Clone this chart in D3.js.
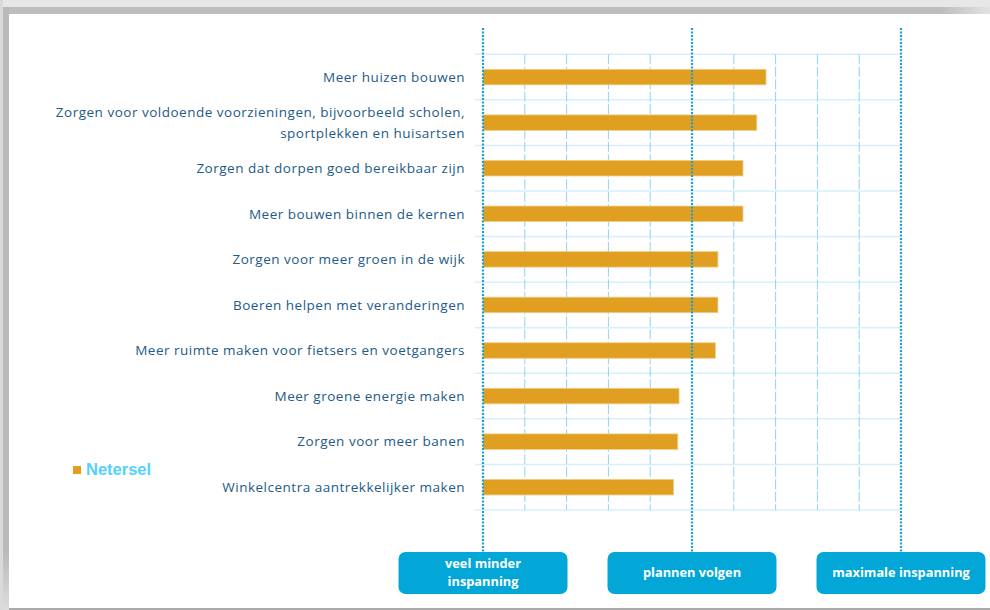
<!DOCTYPE html>
<html>
<head>
<meta charset="utf-8">
<script src="https://cdn.jsdelivr.net/npm/d3@7"></script>
<style>
  html, body { margin: 0; padding: 0; background: #fff; }
  svg { display: block; }
</style>
</head>
<body>
<svg id="chart" width="990" height="610"></svg>
<script>
// ---- data ----
const categories = [
  ["Meer huizen bouwen"],
  ["Zorgen voor voldoende voorzieningen, bijvoorbeeld scholen,", "sportplekken en huisartsen"],
  ["Zorgen dat dorpen goed bereikbaar zijn"],
  ["Meer bouwen binnen de kernen"],
  ["Zorgen voor meer groen in de wijk"],
  ["Boeren helpen met veranderingen"],
  ["Meer ruimte maken voor fietsers en voetgangers"],
  ["Meer groene energie maken"],
  ["Zorgen voor meer banen"],
  ["Winkelcentra aantrekkelijker maken"]
];
const values = [67.7, 65.5, 62.2, 62.2, 56.2, 56.2, 55.6, 46.9, 46.6, 45.6];
const seriesName = "Netersel";
const minorTicks = [10, 20, 30, 40, 60, 70, 80, 90];
const majorTicks = [0, 50, 100];
const majorLabels = [["veel minder", "inspanning"], ["plannen volgen"], ["maximale inspanning"]];

// ---- layout ----
const svg = d3.select("#chart");
const W = 990, H = 610;

const defs = svg.append("defs");
const gTop = defs.append("linearGradient").attr("id", "topfade").attr("x1", 0).attr("x2", 1).attr("y1", 0).attr("y2", 0);
gTop.append("stop").attr("offset", "0%").attr("stop-color", "#bdbdbd");
gTop.append("stop").attr("offset", "95%").attr("stop-color", "#bdbdbd");
gTop.append("stop").attr("offset", "100%").attr("stop-color", "#e2e2e2");
const gLeft = defs.append("linearGradient").attr("id", "leftfade").attr("x1", 0).attr("x2", 0).attr("y1", 0).attr("y2", 1);
gLeft.append("stop").attr("offset", "0%").attr("stop-color", "#b9b9b9");
gLeft.append("stop").attr("offset", "90%").attr("stop-color", "#b9b9b9");
gLeft.append("stop").attr("offset", "100%").attr("stop-color", "#dcdcdc");

// frame
svg.append("rect").attr("x", 0).attr("y", 0).attr("width", W).attr("height", H).attr("fill", "#ffffff");
svg.append("rect").attr("x", 0).attr("y", 0).attr("width", W).attr("height", 7).attr("fill", "#e7e7e7");
svg.append("rect").attr("x", 0).attr("y", 7).attr("width", W).attr("height", 7).attr("fill", "url(#topfade)");
svg.append("rect").attr("x", 0).attr("y", 0).attr("width", 3).attr("height", H).attr("fill", "#dadada");
svg.append("rect").attr("x", 3).attr("y", 7).attr("width", 6).attr("height", H - 7).attr("fill", "url(#leftfade)");
svg.append("rect").attr("x", 9).attr("y", 608).attr("width", W - 9).attr("height", 2).attr("fill", "#aaaaaa");

const x = d3.scaleLinear().domain([0, 100]).range([483, 901]);
const y = d3.scaleBand().domain(d3.range(categories.length)).range([54.3, 510]).padding(0);
const barH = y.bandwidth() * 0.34;

// horizontal gridlines
const hLines = d3.range(categories.length + 1).map(i => 54.3 + i * y.step());
svg.append("g").selectAll("line").data(hLines).join("line")
  .attr("x1", 475).attr("x2", 901)
  .attr("y1", d => d).attr("y2", d => d)
  .attr("stroke", "#d6f0fb").attr("stroke-width", 1.5);

// minor vertical dashed lines
svg.append("g").selectAll("line").data(minorTicks).join("line")
  .attr("x1", d => x(d)).attr("x2", d => x(d))
  .attr("y1", 54.3).attr("y2", 510)
  .attr("stroke", "#8fd3f2").attr("stroke-width", 1)
  .attr("stroke-dasharray", "10,2.5");

// bars
svg.append("g").selectAll("rect").data(values).join("rect")
  .attr("x", x(0))
  .attr("y", (d, i) => y(i) + (y.bandwidth() - barH) / 2)
  .attr("width", d => x(d) - x(0))
  .attr("height", barH)
  .attr("fill", "#e09f21")
  .attr("stroke", "#f2cd86").attr("stroke-width", 0.8);

// major dotted lines
svg.append("g").selectAll("line").data(majorTicks).join("line")
  .attr("x1", d => x(d)).attr("x2", d => x(d))
  .attr("y1", 28).attr("y2", 552)
  .attr("stroke", "#1aa1d4").attr("stroke-width", 2.2)
  .attr("stroke-dasharray", "2,1.5");

// category labels
const lab = svg.append("g")
  .attr("font-family", "'Open Sans', sans-serif")
  .attr("font-size", 13.5)
  .attr("letter-spacing", 0.5)
  .attr("fill", "#245a86")
  .attr("text-anchor", "end");
categories.forEach((lines, i) => {
  const cy = y(i) + y.bandwidth() / 2;
  const lh = 20.5;
  const t = lab.append("text");
  lines.forEach((ln, j) => {
    t.append("tspan").attr("x", 465)
      .attr("y", cy - (lines.length - 1) * lh / 2 + j * lh)
      .attr("dy", "0.35em").text(ln);
  });
});

// buttons
const btnW = 169, btnH = 42, btnY = 552;
const bg = svg.append("g");
majorTicks.forEach((d, i) => {
  const cx = x(d);
  bg.append("rect").attr("x", cx - btnW / 2).attr("y", btnY).attr("width", btnW).attr("height", btnH)
    .attr("rx", 7).attr("ry", 7).attr("fill", "#02a7d7");
  const lines = majorLabels[i];
  const t = bg.append("text").attr("text-anchor", "middle")
    .attr("font-family", "'Open Sans', sans-serif").attr("font-weight", "bold")
    .attr("font-size", 12.8).attr("fill", "#ffffff");
  const lh = 18;
  lines.forEach((ln, j) => {
    t.append("tspan").attr("x", cx)
      .attr("y", btnY + btnH / 2 - (lines.length - 1) * lh / 2 + j * lh)
      .attr("dy", "0.35em").text(ln);
  });
});

// legend
svg.append("rect").attr("x", 73).attr("y", 466).attr("width", 8).attr("height", 8).attr("fill", "#e09f21");
svg.append("text").attr("x", 86).attr("y", 475)
  .attr("font-family", "'Liberation Sans', Arial, sans-serif").attr("font-size", 16.5)
  .attr("font-weight", "bold")
  .attr("fill", "#52d2fc").text(seriesName);
</script>
</body>
</html>
